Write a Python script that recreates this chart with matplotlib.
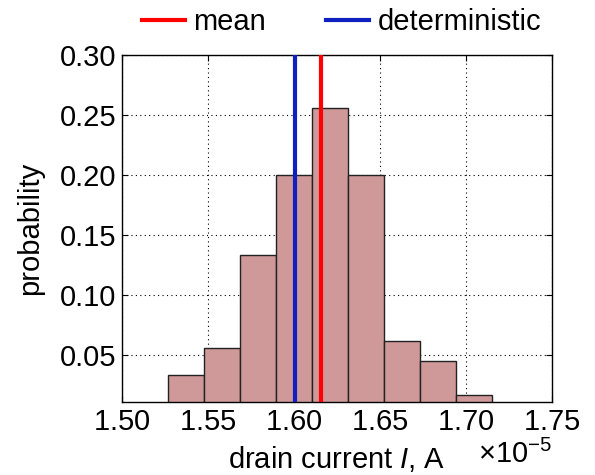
import matplotlib
matplotlib.use("Agg")
import matplotlib.pyplot as plt
from matplotlib.ticker import ScalarFormatter

plt.rcParams['font.family'] = ['Liberation Sans', 'DejaVu Sans']
plt.rcParams['mathtext.fontset'] = 'custom'
plt.rcParams['mathtext.rm'] = 'Liberation Sans'
plt.rcParams['mathtext.it'] = 'Liberation Sans:italic'

# histogram bins (A) and probabilities
bin_edges = [1.5267e-5, 1.5477e-5, 1.5686e-5, 1.5895e-5, 1.6105e-5,
             1.6314e-5, 1.6523e-5, 1.6733e-5, 1.6942e-5, 1.7151e-5]
probs = [0.0333, 0.0556, 0.1333, 0.2, 0.2556, 0.2, 0.0611, 0.0444, 0.0167]
mean_current = 1.6157e-5
det_current = 1.6006e-5

fs = 21
fig = plt.figure(figsize=(5.95, 4.75), dpi=100)
ax = fig.add_axes([0.205, 0.1537, 0.723, 0.7305])

lefts = bin_edges[:-1]
widths = [b - a for a, b in zip(bin_edges[:-1], bin_edges[1:])]
ax.bar(lefts, probs, width=widths, align='edge', color='#cf9999',
       edgecolor='#222222', linewidth=1.0, zorder=2)

l1 = ax.axvline(mean_current, color='#ff0000', lw=3, zorder=3, label='mean')
l2 = ax.axvline(det_current, color='#1020c0', lw=3, zorder=3, label='deterministic')

ax.set_xlim(1.50e-5, 1.75e-5)
ax.set_ylim(0.0105, 0.30)
ax.set_xticks([1.50e-5, 1.55e-5, 1.60e-5, 1.65e-5, 1.70e-5, 1.75e-5])
ax.set_yticks([0.05, 0.10, 0.15, 0.20, 0.25, 0.30])
ax.set_yticklabels(['0.05', '0.10', '0.15', '0.20', '0.25', '0.30'])

fmt = ScalarFormatter(useMathText=True)
fmt.set_powerlimits((0, 0))
ax.xaxis.set_major_formatter(fmt)
ax.xaxis.get_offset_text().set_fontsize(fs)

ax.grid(True, color='black', linestyle=(0, (1, 3)), linewidth=0.8, zorder=1)
ax.set_axisbelow(True)
ax.tick_params(direction='in', top=True, right=True, length=4,
               labelsize=fs, pad=4)
for s in ax.spines.values():
    s.set_linewidth(1.0)

ax.set_xlabel('drain current $I$, A', fontsize=fs, labelpad=6)
ax.set_ylabel('probability', fontsize=fs, labelpad=11)

ax.legend(handles=[l1, l2], loc='lower center', bbox_to_anchor=(0.51, 1.055),
          ncol=2, frameon=False, fontsize=fs, handlelength=1.5,
          columnspacing=2.03, handletextpad=0.28, borderaxespad=0.0,
          borderpad=0.0)

fig.savefig('out.png', dpi=100)
